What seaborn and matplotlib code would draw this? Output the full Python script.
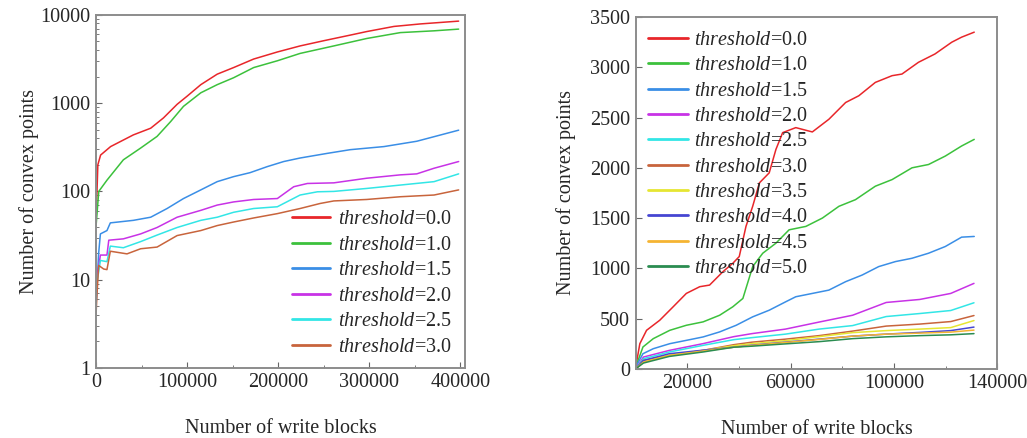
import numpy as np
import pandas as pd
import matplotlib
matplotlib.use("Agg")
import matplotlib.pyplot as plt
import matplotlib.ticker as mticker
import seaborn as sns

# ---------------- data: left panel (log scale) ----------------
L_red_x = [0, 2000, 5000, 16000, 41000, 60000, 74000, 89000, 100000, 115000, 133000, 151000,
           173000, 199000, 224000, 250000, 279000, 297000, 327000, 356000, 398000]
L_red_y = [45, 200, 258, 322, 437, 520, 680, 970, 1200, 1620, 2130, 2530,
           3160, 3800, 4450, 5100, 5900, 6470, 7400, 7900, 8500]
L_green_x = [0, 3000, 12000, 30000, 49000, 67000, 82000, 96000, 115000, 133000, 151000, 173000,
             199000, 224000, 261000, 297000, 334000, 371000, 398000]
L_green_y = [40, 100, 134, 228, 310, 420, 620, 920, 1310, 1620, 1940, 2530,
             3020, 3660, 4450, 5400, 6300, 6600, 6900]
L_blue_x = [0, 1100, 2900, 4800, 12000, 15700, 41000, 60000, 78000, 96000, 115000, 133000, 151000,
            169000, 188000, 206000, 224000, 254000, 279000, 316000, 352000, 398000]
L_blue_y = [5, 9, 20, 33, 36, 44, 47, 51, 64, 83, 104, 129, 147,
            163, 191, 218, 239, 270, 297, 322, 370, 494]
L_purple_x = [0, 1100, 4800, 12000, 14000, 30000, 49000, 67000, 89000, 115000, 133000, 151000, 173000,
              199000, 217000, 232000, 261000, 297000, 334000, 352000, 371000, 398000]
L_purple_y = [5, 10.6, 19, 19, 28, 29, 33, 39, 51, 61, 70, 76, 81,
              83, 113, 123, 125, 141, 154, 158, 183, 218]
L_cyan_x = [0, 1100, 4800, 12000, 15700, 30000, 49000, 67000, 89000, 115000, 133000, 151000, 173000,
            199000, 224000, 243000, 261000, 297000, 334000, 371000, 398000]
L_cyan_y = [5, 9.3, 16.5, 16, 24, 23, 27, 32, 39, 47, 51, 58, 64,
            67, 91, 99, 100, 108, 118, 129, 158]
L_brown_x = [0, 1100, 2900, 8400, 12000, 15700, 34000, 49000, 67000, 89000, 115000, 133000, 151000,
             173000, 199000, 224000, 246000, 261000, 297000, 334000, 371000, 398000]
L_brown_y = [4, 6.9, 14.5, 13.2, 13, 21, 19.6, 22.4, 23.4, 31.6, 36, 41, 45,
             50, 56, 64, 73, 78, 81, 87, 91, 104]

L_labels = ["0.0", "1.0", "1.5", "2.0", "2.5", "3.0"]

# ---------------- data: right panel (linear scale) ----------------
R_red_x = [0, 1600, 4200, 9300, 14500, 19600, 24800, 28600, 33800, 37600, 40100, 42700, 45300, 47900,
           51700, 54300, 56900, 62000, 68400, 74800, 81300, 86400, 92800, 99300, 103100, 109500,
           115900, 122400, 126200, 131100]
R_red_y = [17, 250, 383, 483, 617, 750, 817, 833, 967, 1050, 1117, 1417, 1617, 1850,
           1950, 2183, 2350, 2400, 2357, 2483, 2650, 2717, 2850, 2917, 2933, 3050,
           3133, 3250, 3300, 3350]
R_green_x = [0, 2800, 6800, 13200, 19600, 26100, 32500, 37600, 41500, 45300, 49200, 54300, 59400,
             65900, 72300, 78700, 85100, 92800, 99300, 107000, 113400, 119900, 126200, 131100]
R_green_y = [17, 217, 300, 383, 433, 467, 533, 617, 700, 1017, 1150, 1250, 1383,
             1417, 1500, 1617, 1683, 1817, 1883, 2000, 2033, 2117, 2217, 2283]
R_blue_x = [0, 2800, 6800, 13200, 19600, 26100, 32500, 38900, 45300, 51700, 58100, 62000, 68400,
            74800, 81300, 87700, 94100, 100600, 107000, 113400, 119900, 126200, 131100]
R_blue_y = [17, 150, 200, 250, 283, 317, 367, 433, 517, 583, 667, 717, 750,
            783, 867, 933, 1017, 1067, 1100, 1150, 1217, 1310, 1317]
R_x = [0, 3000, 13000, 26000, 38000, 45000, 58000, 71000, 84000, 97000, 110000, 122000, 131000]
R_purple_y = [0, 117, 183, 250, 320, 350, 395, 465, 533, 660, 690, 750, 850]
R_cyan_y = [0, 100, 167, 233, 290, 310, 345, 395, 430, 520, 550, 580, 657]
R_brown_y = [0, 83, 133, 183, 240, 265, 295, 330, 375, 425, 445, 470, 530]
R_yellow_y = [0, 67, 133, 183, 230, 250, 280, 320, 360, 380, 395, 410, 480]
R_violet_y = [0, 83, 150, 185, 215, 235, 265, 295, 325, 345, 362, 380, 415]
R_orange_y = [0, 67, 133, 177, 215, 232, 262, 292, 325, 345, 355, 365, 385]
R_dkgreen_y = [0, 57, 123, 167, 215, 225, 248, 270, 300, 318, 330, 338, 350]

R_labels = ["0.0", "1.0", "1.5", "2.0", "2.5", "3.0", "3.5", "4.0", "4.5", "5.0"]

colors = ["#e8262a", "#3cc13c", "#3a8ee6", "#c832e6", "#32e6e6", "#c8643c",
          "#e6e632", "#4646d2", "#f5b432", "#2a8c50"]

# ---------------- style ----------------
sns.set_style("white")
plt.rcParams["font.family"] = ["Liberation Serif", "DejaVu Serif"]
plt.rcParams["mathtext.fontset"] = "custom"
plt.rcParams["mathtext.rm"] = "Liberation Serif"
plt.rcParams["mathtext.it"] = "Liberation Serif:italic"
FS = 14.5
plt.rcParams["font.size"] = FS

fig = plt.figure(figsize=(10.27, 4.38), dpi=100)
axL = fig.add_axes([0.0935, 0.160, 0.3593, 0.806])
axR = fig.add_axes([0.619, 0.158, 0.352, 0.803])

def lab(t):
    return r"$\mathit{threshold}$=" + t

left_series = [(L_red_x, L_red_y), (L_green_x, L_green_y), (L_blue_x, L_blue_y),
               (L_purple_x, L_purple_y), (L_cyan_x, L_cyan_y), (L_brown_x, L_brown_y)]
for (xs, ys), t, c in zip(left_series, L_labels, colors):
    df = pd.DataFrame({"x": xs, "y": ys})
    sns.lineplot(data=df, x="x", y="y", ax=axL, color=c, linewidth=1.1,
                 label=lab(t), estimator=None, sort=False)

right_series = [(R_red_x, R_red_y), (R_green_x, R_green_y), (R_blue_x, R_blue_y),
                (R_x, R_purple_y), (R_x, R_cyan_y), (R_x, R_brown_y), (R_x, R_yellow_y),
                (R_x, R_violet_y), (R_x, R_orange_y), (R_x, R_dkgreen_y)]
for (xs, ys), t, c in zip(right_series, R_labels, colors):
    df = pd.DataFrame({"x": xs, "y": ys})
    sns.lineplot(data=df, x="x", y="y", ax=axR, color=c, linewidth=1.1,
                 label=lab(t), estimator=None, sort=False)

# left axes
axL.set_yscale("log")
axL.set_xlim(0, 405000)
axL.set_ylim(1, 10000)
axL.set_xticks([0, 100000, 200000, 300000, 400000])
axL.xaxis.set_minor_locator(mticker.MultipleLocator(50000))
axL.set_yticks([1, 10, 100, 1000, 10000])
axL.yaxis.set_major_formatter(mticker.FuncFormatter(lambda v, p: f"{int(round(v))}"))
axL.xaxis.set_major_formatter(mticker.FuncFormatter(lambda v, p: f"{int(v)}"))

# right axes
axR.set_xlim(0, 140000)
axR.set_ylim(0, 3500)
axR.set_xticks([20000, 60000, 100000, 140000])
axR.set_xticks([40000, 80000, 120000], minor=True)
axR.set_yticks(np.arange(0, 3501, 500))
axR.xaxis.set_major_formatter(mticker.FuncFormatter(lambda v, p: f"{int(v)}"))

for ax, ypad in ((axL, 1), (axR, 10)):
    ax.set_xlabel("Number of write blocks", fontsize=FS, labelpad=19)
    ax.set_ylabel("Number of convex points", fontsize=FS, labelpad=ypad)
    ax.tick_params(axis="both", which="major", direction="in", length=4, width=0.8,
                   color="#666666", labelsize=FS, pad=4, left=True, bottom=True)
    ax.tick_params(axis="both", which="minor", direction="in", length=2.5, width=0.6,
                   color="#666666", left=True, bottom=True)
    for s in ax.spines.values():
        s.set_color("#8c8c8c")
        s.set_linewidth(1.4)

axL.legend(loc="lower right", frameon=False, fontsize=FS, handlelength=1.9,
           handletextpad=0.4, labelspacing=0.32, borderaxespad=0.15,
           bbox_to_anchor=(0.995, 0.0))
axR.legend(loc="upper left", frameon=False, fontsize=FS, handlelength=2.0,
           handletextpad=0.3, labelspacing=0.31, borderaxespad=0.2,
           bbox_to_anchor=(0.0, 0.995))
for leg in (axL.get_legend(), axR.get_legend()):
    for h in leg.legend_handles:
        h.set_linewidth(2.0)

fig.savefig("out.png", dpi=100, facecolor="white")
